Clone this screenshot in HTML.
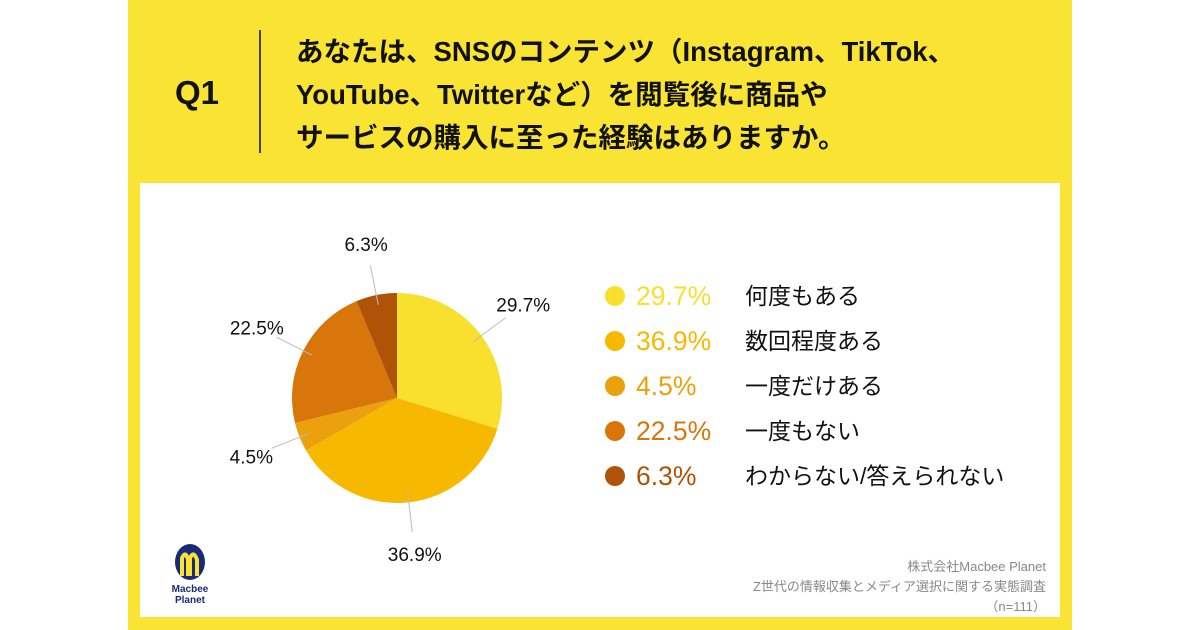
<!DOCTYPE html>
<html><head><meta charset="utf-8"><style>
body{margin:0;width:1200px;height:630px;background:#fff;overflow:hidden;font-family:"Liberation Sans","Noto Sans CJK JP",sans-serif}
#panel{position:absolute;left:128px;top:0;width:944px;height:630px;background:#F9E333}
#card{position:absolute;left:140px;top:183px;width:920px;height:434px;background:#fff}
#q{position:absolute;left:175px;top:74px;font-size:33px;font-weight:bold;color:#111}
#sep{position:absolute;left:259px;top:30px;width:2px;height:123px;background:#444}
#title{position:absolute;left:296px;top:30px;font-size:27.5px;font-weight:bold;line-height:43px;color:#111;white-space:nowrap}
#credit{position:absolute;right:154px;top:557px;text-align:right;font-size:13px;line-height:20px;color:#888}
</style></head><body>
<div id="panel"></div>
<div id="q">Q1</div>
<div id="sep"></div>
<div id="title">あなたは、SNSのコンテンツ（Instagram、TikTok、<br>YouTube、Twitterなど）を閲覧後に商品や<br>サービスの購入に至った経験はありますか。</div>
<div id="card"></div>
<svg id="chart" width="1200" height="630" style="position:absolute;left:0;top:0"></svg>
<div id="credit">株式会社Macbee Planet<br>Z世代の情報収集とメディア選択に関する実態調査<br>（n=111）</div>
<svg width="60" height="70" style="position:absolute;left:160px;top:540px">
<ellipse cx="30" cy="22" rx="15" ry="18" fill="#1a2a7a"/>
<path d="M22 36 V18 Q26 10 28 20 V36 M30 36 V18 Q34 10 37 20 V36" stroke="#F9E333" stroke-width="4" fill="none"/>
<text x="30" y="52" font-size="10" font-weight="bold" fill="#1a2a7a" text-anchor="middle">Macbee</text>
<text x="30" y="63" font-size="10" font-weight="bold" fill="#1a2a7a" text-anchor="middle">Planet</text>
</svg>
<script>
const categories=["何度もある","数回程度ある","一度だけある","一度もない","わからない/答えられない"];
const values=[29.7,36.9,4.5,22.5,6.3];
const colors=["#F9DF2E","#F7B900","#EBA10E","#D8750B","#AE5307"];
const svg=document.getElementById('chart');
const NS='http://www.w3.org/2000/svg';
const cx=397,cy=398,r=105;
const total=values.reduce((a,b)=>a+b,0);
function pt(a,rr){return [cx+rr*Math.sin(a),cy-rr*Math.cos(a)];}
let acc=0;
values.forEach((v,i)=>{
  const a0=acc/total*2*Math.PI;acc+=v;const a1=acc/total*2*Math.PI;
  const p0=pt(a0,r),p1=pt(a1,r);
  const path=document.createElementNS(NS,'path');
  path.setAttribute('d',`M${cx},${cy}L${p0[0]},${p0[1]}A${r},${r} 0 ${a1-a0>Math.PI?1:0} 1 ${p1[0]},${p1[1]}Z`);
  path.setAttribute('fill',colors[i]);
  
  
  svg.appendChild(path);
  const am=(a0+a1)/2;
  const l0=pt(am,r-10),l1=pt(am,r+30),lt=pt(am,r+52);
  const ln=document.createElementNS(NS,'line');
  ln.setAttribute('x1',l0[0]);ln.setAttribute('y1',l0[1]);ln.setAttribute('x2',l1[0]);ln.setAttribute('y2',l1[1]);
  ln.setAttribute('stroke','#bbb');ln.setAttribute('stroke-width','1');
  
  
  svg.appendChild(ln);
  const t=document.createElementNS(NS,'text');
  t.setAttribute('x',lt[0]);t.setAttribute('y',lt[1]+7);t.setAttribute('text-anchor','middle');
  t.setAttribute('font-size','19');t.setAttribute('fill','#111');
  t.textContent=v.toFixed(1)+'%';
  
  
  svg.appendChild(t);
  const y=296+i*45;
  const c=document.createElementNS(NS,'circle');
  c.setAttribute('cx',615);c.setAttribute('cy',y);c.setAttribute('r',10);c.setAttribute('fill',colors[i]);
  
  
  svg.appendChild(c);
  const tp=document.createElementNS(NS,'text');
  tp.setAttribute('x',636);tp.setAttribute('y',y+9);tp.setAttribute('font-size','26.5');tp.setAttribute('fill',colors[i]);
  tp.textContent=v.toFixed(1)+'%';
  
  
  svg.appendChild(tp);
  const tl=document.createElementNS(NS,'text');
  tl.setAttribute('x',745);tl.setAttribute('y',y+8);tl.setAttribute('font-size','23');tl.setAttribute('fill','#111');
  tl.textContent=categories[i];
  
  
  svg.appendChild(tl);
});
</script>
</body></html>
